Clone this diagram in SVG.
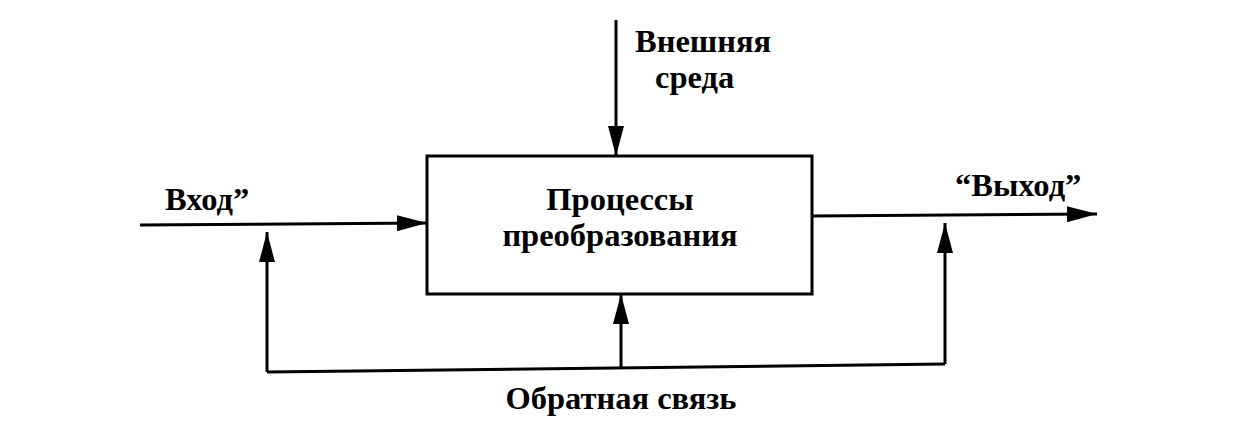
<svg xmlns="http://www.w3.org/2000/svg" width="1256" height="448" viewBox="0 0 1256 448">
<style>
.t{font-family:"Liberation Serif","Times New Roman",serif;font-weight:bold;font-size:32.5px;fill:#000}
.l{fill:none;stroke:#000;stroke-width:3}
</style>
<defs>
<marker id="ah" markerUnits="userSpaceOnUse" markerWidth="30" markerHeight="16" refX="30" refY="8" orient="auto">
<path d="M0,0 L30,8 L0,16 Z" fill="#000"/>
</marker>
</defs>
<rect width="1256" height="448" fill="#fff"/>
<g id="process">
<rect x="427" y="156" width="385" height="138" fill="none" stroke="#000" stroke-width="3"/>
<text class="t" x="620" y="210" text-anchor="middle">Процессы</text>
<text class="t" x="620" y="246" text-anchor="middle">преобразования</text>
</g>
<g id="labels">
<text class="t" x="635" y="52">Внешняя</text>
<text class="t" x="655" y="88">среда</text>
<text class="t" x="165" y="210">Вход”</text>
<text class="t" x="955" y="196">“Выход”</text>
<text class="t" x="621" y="409" text-anchor="middle">Обратная связь</text>
</g>
<g id="connectors">
<line class="l" x1="616" y1="20" x2="616" y2="156" marker-end="url(#ah)"/>
<line class="l" x1="140" y1="225" x2="427" y2="223" marker-end="url(#ah)"/>
<line class="l" x1="812" y1="216" x2="1097" y2="214" marker-end="url(#ah)"/>
<polyline class="l" points="267,372 945,364"/>
<line class="l" x1="267" y1="372" x2="267" y2="232" marker-end="url(#ah)"/>
<line class="l" x1="621" y1="369" x2="621" y2="294" marker-end="url(#ah)"/>
<line class="l" x1="945" y1="364" x2="945" y2="223" marker-end="url(#ah)"/>
</g>
</svg>
